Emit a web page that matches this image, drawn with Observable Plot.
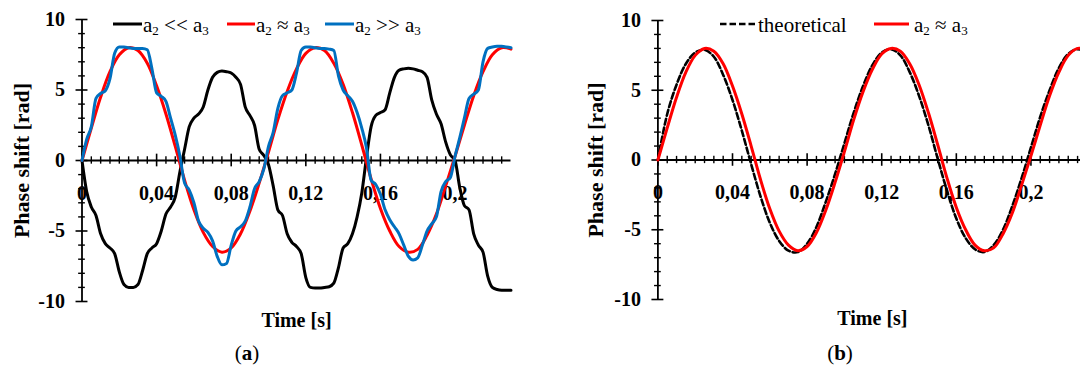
<!DOCTYPE html>
<html>
<head>
<meta charset="utf-8">
<script src="https://cdn.jsdelivr.net/npm/d3@7"></script>
<script src="https://cdn.jsdelivr.net/npm/@observablehq/plot@0.6"></script>
<style>
  html, body { margin: 0; padding: 0; background: #fff; }
  body { width: 1080px; height: 369px; overflow: hidden; position: relative; font-family: 'Liberation Serif', 'Times New Roman', serif; }
  .panel { position: absolute; top: 0; height: 369px; }
  .panel svg text { font-family: 'Liberation Serif', 'Times New Roman', serif; }
  .legend-item { position: absolute; top: 13px; height: 24px; line-height: 24px; font-size: 21px; white-space: nowrap; color: #000; }
  .legend-item sub { font-size: 13px; vertical-align: -3px; line-height: 0; }
  .legend-line { position: absolute; top: 13px; }
  .caption { position: absolute; top: 341px; font-size: 21px; transform: translateX(-50%); white-space: nowrap; }
</style>
</head>
<body>
<div id="pa" class="panel" style="left:0; width:540px;"></div>
<div id="pb" class="panel" style="left:540px; width:560px;"></div>
<script>
// ---------- data ----------
const xTicks = [0, 0.04, 0.08, 0.12, 0.16, 0.2];
const xTickLabels = ["0", "0,04", "0,08", "0,12", "0,16", "0,2"];
const xMinor = [0.005, 0.01, 0.015, 0.02, 0.025, 0.03, 0.035, 0.045, 0.05, 0.055, 0.06, 0.065, 0.07, 0.075,
  0.085, 0.09, 0.095, 0.1, 0.105, 0.11, 0.115, 0.125, 0.13, 0.135, 0.14, 0.145, 0.15, 0.155,
  0.165, 0.17, 0.175, 0.18, 0.185, 0.19, 0.195, 0.205, 0.21, 0.215, 0.22, 0.225];
const yTicks = [-10, -5, 0, 5, 10];
const yTickLabels = ["-10", "-5", "0", "5", "10"];
const yMinor = [-9, -8, -7, -6, -4, -3, -2, -1, 1, 2, 3, 4, 6, 7, 8, 9];

const xTitle = "Time [s]";
const yTitle = "Phase shift [rad]";

// fine time grid (s) for the wavy series
const tFine = [0, 0.0025, 0.005, 0.0075, 0.01, 0.0125, 0.015, 0.0175, 0.02, 0.0225,
  0.025, 0.0275, 0.03, 0.0325, 0.035, 0.0375, 0.04, 0.0425, 0.045, 0.0475,
  0.05, 0.0525, 0.055, 0.0575, 0.06, 0.0625, 0.065, 0.0675, 0.07, 0.0725,
  0.075, 0.0775, 0.08, 0.0825, 0.085, 0.0875, 0.09, 0.0925, 0.095, 0.0975,
  0.1, 0.1025, 0.105, 0.1075, 0.11, 0.1125, 0.115, 0.1175, 0.12, 0.1225,
  0.125, 0.1275, 0.13, 0.1325, 0.135, 0.1375, 0.14, 0.1425, 0.145, 0.1475,
  0.15, 0.1525, 0.155, 0.1575, 0.16, 0.1625, 0.165, 0.1675, 0.17, 0.1725,
  0.175, 0.1775, 0.18, 0.1825, 0.185, 0.1875, 0.19, 0.1925, 0.195, 0.1975,
  0.2, 0.2025, 0.205, 0.2075, 0.21, 0.2125, 0.215, 0.2175, 0.22, 0.2225,
  0.225, 0.2275, 0.23];

// a2 << a3 (black)
const seriesLow = [0, -2.2, -3.3, -3.9, -5.2, -5.9, -6.2, -6.6, -7.9, -8.8,
  -9.0, -9.0, -8.8, -7.8, -6.6, -6.2, -5.9, -5.0, -3.8, -3.3,
  -2.6, -0.8, 0.8, 2.4, 3.0, 3.3, 3.8, 5.0, 5.9, 6.25,
  6.35, 6.3, 6.2, 5.9, 5.4, 3.8, 3.2, 2.5, 0.8, 0.35,
  -0.3, -1.8, -3.5, -3.9, -5.2, -5.8, -6.1, -6.6, -8.3, -9.0,
  -9.05, -9.05, -9.0, -8.95, -8.7, -7.6, -6.2, -5.9, -5.2, -4.0,
  -2.3, 0.2, 2.4, 3.2, 3.4, 3.6, 4.8, 5.9, 6.4, 6.5,
  6.55, 6.5, 6.4, 6.3, 5.9, 4.3, 3.3, 2.6, 1.3, 0.4,
  0.0, -1.9, -3.2, -3.5, -5.2, -6.0, -6.5, -8.2, -9.0, -9.15,
  -9.2, -9.2, -9.2];

// a2 >> a3 (blue)
const seriesHigh = [0, 1.5, 2.4, 4.4, 4.75, 4.95, 5.8, 7.6, 8.05, 8.05,
  8.0, 7.95, 7.95, 7.95, 7.85, 6.5, 4.8, 4.55, 4.2, 3.0,
  1.8, 0.3, -1.6, -2.1, -3.0, -4.3, -4.8, -5.1, -5.7, -6.8,
  -7.4, -7.3, -6.0, -5.0, -4.7, -4.3, -3.3, -2.0, -1.5, -0.6,
  1.0, 2.0, 3.7, 4.6, 4.8, 5.0, 6.2, 7.8, 8.05, 8.05,
  8.0, 7.95, 7.95, 7.9, 7.8, 6.0, 5.0, 4.6, 4.2, 3.4,
  2.3, 0.9, -1.4, -1.7, -2.4, -3.5, -4.2, -4.7, -5.2, -6.0,
  -6.8, -7.05, -6.9, -6.0, -5.0, -4.5, -4.0, -2.2, -1.5, -1.2,
  0.3, 1.6, 3.0, 4.4, 4.7, 5.0, 7.0, 7.95, 8.05, 8.1,
  8.1, 8.05, 8.0];

// coarse time grid (s) for the smooth series
const tCoarse = [0, 0.005, 0.01, 0.015, 0.02, 0.025, 0.03, 0.035, 0.04, 0.045,
  0.05, 0.055, 0.06, 0.065, 0.07, 0.075, 0.08, 0.085, 0.09, 0.095,
  0.1, 0.105, 0.11, 0.115, 0.12, 0.125, 0.13, 0.135, 0.14, 0.145,
  0.15, 0.155, 0.16, 0.165, 0.17, 0.175, 0.18, 0.185, 0.19, 0.195,
  0.2, 0.205, 0.21, 0.215, 0.22, 0.225, 0.23];

// a2 ≈ a3 (red)
const seriesEqual = [0, 2.3, 4.5, 6.3, 7.5, 8.0, 7.8, 6.9, 5.3, 3.3,
  1.0, -1.4, -3.5, -5.1, -6.1, -6.5, -6.2, -5.2, -3.6, -1.6,
  0.6, 2.9, 4.9, 6.5, 7.6, 8.0, 7.8, 6.9, 5.4, 3.4,
  1.1, -1.3, -3.4, -5.0, -6.1, -6.5, -6.3, -5.3, -3.8, -1.8,
  0.3, 2.5, 4.6, 6.3, 7.5, 8.0, 7.9];

// theoretical (black dashed)
const seriesTheory = [0, 3.3, 5.4, 6.9, 7.7, 7.9, 7.4, 6.1, 4.3, 2.1,
  -0.3, -2.6, -4.5, -5.8, -6.5, -6.6, -6.0, -4.8, -3.0, -1.0,
  1.2, 3.4, 5.3, 6.8, 7.7, 7.95, 7.5, 6.3, 4.6, 2.5,
  0.1, -2.2, -4.2, -5.6, -6.4, -6.6, -6.1, -5.0, -3.3, -1.3,
  0.9, 3.1, 5.0, 6.6, 7.6, 7.95, 7.7];

const legendA = ["a₂ << a₃", "a₂ ≈ a₃", "a₂ >> a₃"];
const legendB = ["theoretical", "a₂ ≈ a₃"];

// ---------- build ----------
const rows = (ts, vs) => ts.map((t, i) => ({t, v: vs[i]}));
const lowRows = rows(tFine, seriesLow);
const highRows = rows(tFine, seriesHigh);
const equalRows = rows(tCoarse, seriesEqual);
const theoryRows = rows(tCoarse, seriesTheory);

const FONT = "Liberation Serif, Times New Roman, serif";
const RED = "#ff0000", BLUE = "#0070c0", BLACK = "#000000";

function axisMarks(yTitleDx) {
  const txt = {fill: BLACK, fontFamily: FONT, fontWeight: "bold", fontSize: 20};
  return [
    Plot.ruleY([0], {x1: 0, x2: 0.23, stroke: BLACK, strokeWidth: 1.8}),
    Plot.ruleX([0], {y1: -10, y2: 10, stroke: BLACK, strokeWidth: 1.8}),
    Plot.ruleX(xMinor, {x: d => d, y1: -0.26, y2: 0.26, stroke: BLACK, strokeWidth: 1.4}),
    Plot.ruleX(xTicks, {x: d => d, y1: -0.45, y2: 0.45, stroke: BLACK, strokeWidth: 1.6}),
    Plot.ruleY(yMinor, {y: d => d, x1: -0.0018, x2: 0.0018, stroke: BLACK, strokeWidth: 1.4}),
    Plot.ruleY(yTicks, {y: d => d, x1: -0.0032, x2: 0.0032, stroke: BLACK, strokeWidth: 1.6}),
    Plot.text(xTicks, {...txt, x: d => d, y: 0, text: (d, i) => xTickLabels[i], dy: 33, textAnchor: "middle", lineAnchor: "middle"}),
    Plot.text(yTicks, {...txt, x: 0, y: d => d, text: (d, i) => yTickLabels[i], textAnchor: "end", lineAnchor: "middle", dx: -17}),
    Plot.text([xTitle], {...txt, frameAnchor: "bottom", dy: 19, textAnchor: "middle", lineAnchor: "middle"}),
    Plot.text([yTitle], {...txt, fontSize: 22, frameAnchor: "left", dx: yTitleDx, rotate: -90, textAnchor: "middle", lineAnchor: "middle"})
  ];
}

const style = {fontFamily: FONT, fontSize: "20px", fontWeight: "bold", background: "transparent", overflow: "visible"};

const chartA = Plot.plot({
  width: 540, height: 369,
  marginTop: 19, marginBottom: 68, marginLeft: 81.5, marginRight: 29.5,
  x: {domain: [0, 0.23], axis: null},
  y: {domain: [-10, 10], axis: null},
  style,
  marks: [
    ...axisMarks(-60),
    Plot.line(lowRows, {x: "t", y: "v", stroke: BLACK, strokeWidth: 3, curve: "monotone-x"}),
    Plot.line(equalRows, {x: "t", y: "v", stroke: RED, strokeWidth: 3, curve: "catmull-rom"}),
    Plot.line(highRows, {x: "t", y: "v", stroke: BLUE, strokeWidth: 3, curve: "monotone-x"})
  ]
});

const chartB = Plot.plot({
  width: 560, height: 369,
  marginTop: 20, marginBottom: 70, marginLeft: 117.4, marginRight: 13.6,
  x: {domain: [0, 0.23], axis: null},
  y: {domain: [-10, 10], axis: null},
  style,
  marks: [
    ...axisMarks(-62),
    Plot.line(theoryRows, {x: "t", y: "v", stroke: BLACK, strokeWidth: 2.6, strokeDasharray: "6,3", curve: "catmull-rom"}),
    Plot.line(equalRows, {x: "t", y: "v", stroke: RED, strokeWidth: 3, curve: "catmull-rom"})
  ]
});

const pa = document.getElementById("pa");
const pb = document.getElementById("pb");
pa.appendChild(chartA);
pb.appendChild(chartB);

// ---------- legends & captions (HTML text) ----------
function subText(s) {
  return s.replace(/&/g, "&amp;").replace(/</g, "&lt;").replace(/>/g, "&gt;")
    .replace(/₂/g, "<sub>2</sub>").replace(/₃/g, "<sub>3</sub>");
}
function addLegend(parent, items) {
  for (const it of items) {
    const svg = document.createElementNS("http://www.w3.org/2000/svg", "svg");
    svg.setAttribute("width", it.w);
    svg.setAttribute("height", 24);
    svg.setAttribute("class", "legend-line");
    svg.style.left = it.lineX + "px";
    const ln = document.createElementNS("http://www.w3.org/2000/svg", "line");
    ln.setAttribute("x1", 0); ln.setAttribute("x2", it.w);
    ln.setAttribute("y1", 11); ln.setAttribute("y2", 11);
    ln.setAttribute("stroke", it.color);
    ln.setAttribute("stroke-width", it.dash ? 2.6 : 3);
    if (it.dash) ln.setAttribute("stroke-dasharray", "6.5,3");
    svg.appendChild(ln);
    parent.appendChild(svg);
    const div = document.createElement("div");
    div.className = "legend-item";
    div.style.left = it.textX + "px";
    div.innerHTML = subText(it.label);
    parent.appendChild(div);
  }
}
addLegend(pa, [
  {label: legendA[0], color: BLACK, lineX: 113, w: 29, textX: 143},
  {label: legendA[1], color: RED, lineX: 227, w: 28, textX: 256},
  {label: legendA[2], color: BLUE, lineX: 325, w: 29, textX: 355}
]);
addLegend(pb, [
  {label: legendB[0], color: BLACK, lineX: 180, w: 37, textX: 218, dash: true},
  {label: legendB[1], color: RED, lineX: 334, w: 35, textX: 374}
]);

const capA = document.createElement("div");
capA.className = "caption"; capA.style.left = "247px"; capA.innerHTML = "(<b>a</b>)";
pa.appendChild(capA);
const capB = document.createElement("div");
capB.className = "caption"; capB.style.left = "300px"; capB.innerHTML = "(<b>b</b>)";
pb.appendChild(capB);
</script>
</body>
</html>
